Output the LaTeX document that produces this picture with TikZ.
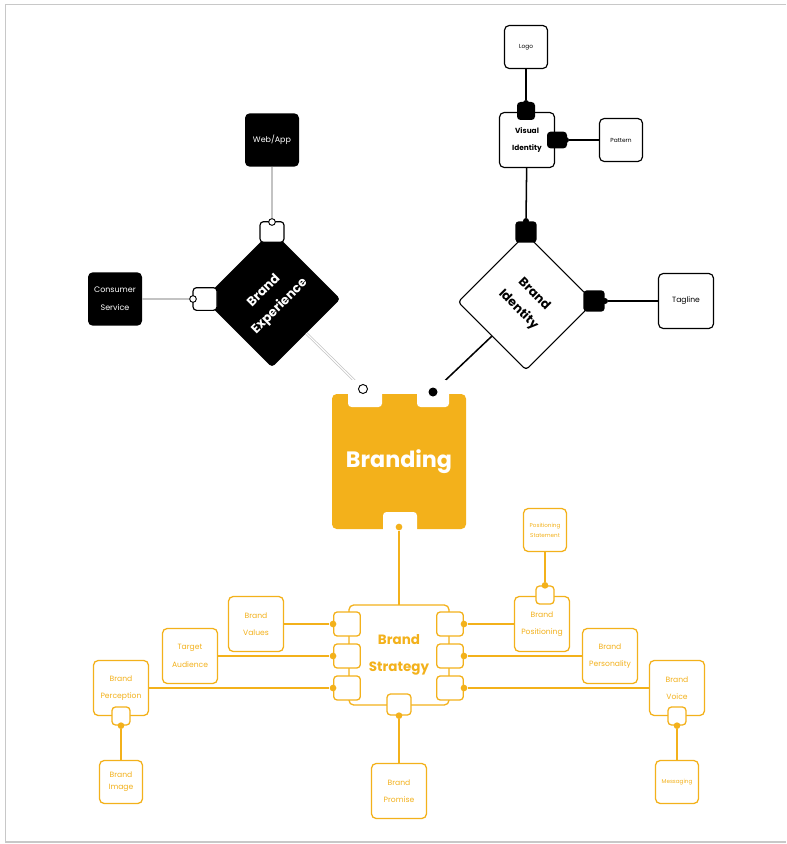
\documentclass[tikz,border=0pt]{standalone}
\usepackage{fontspec}
\setmainfont{Poppins}

\definecolor{brandorange}{RGB}{243,177,27}
\definecolor{linegray}{RGB}{195,195,195}
\definecolor{framegray}{RGB}{200,200,200}

\tikzstyle{wbox} = [draw=black, fill=white, line width=1pt, rounded corners=4pt, minimum width=1.65cm, minimum height=1.65cm, align=center, inner sep=0pt, font=\fontsize{6.5}{15}\selectfont]
\tikzstyle{wsmall} = [wbox, minimum width=1.29cm, minimum height=1.29cm, font=\fontsize{5}{9}\selectfont]
\tikzstyle{bbox} = [fill=black, rounded corners=4pt, minimum width=1.62cm, minimum height=1.6cm, text=white, align=center, inner sep=0pt, font=\fontsize{6.8}{15}\selectfont]
\tikzstyle{obox} = [draw=brandorange, fill=white, line width=1.1pt, rounded corners=4pt, minimum size=1.65cm, text=brandorange, align=center, inner sep=0pt, font=\fontsize{6.5}{15}\selectfont]
\tikzstyle{osmall} = [obox, minimum size=1.29cm, font=\fontsize{6.5}{10.5}\selectfont]
\tikzstyle{oport} = [draw=brandorange, fill=white, line width=1.1pt, rounded corners=3pt, minimum width=0.8cm, minimum height=0.72cm, inner sep=0pt]
\tikzstyle{osock} = [oport, minimum width=0.54cm, minimum height=0.54cm]
\tikzstyle{odot} = [circle, fill=brandorange, inner sep=0pt, minimum size=0.2cm]
\tikzstyle{bport} = [fill=black, rounded corners=3pt, inner sep=0pt, minimum size=0.6cm]
\tikzstyle{bdot} = [circle, fill=black, inner sep=0pt, minimum size=0.18cm]
\tikzstyle{wport} = [draw=black, fill=white, line width=1pt, rounded corners=3pt, inner sep=0pt, minimum width=0.72cm, minimum height=0.62cm]
\tikzstyle{wdot} = [circle, draw=black, fill=white, line width=0.8pt, inner sep=0pt, minimum size=0.2cm]
\tikzstyle{olink} = [draw=brandorange, line width=1.3pt]
\tikzstyle{blink} = [draw=black, line width=1.3pt]
\tikzstyle{glink} = [draw=linegray, line width=1.3pt]

\begin{document}
\begin{tikzpicture}
        \tikzset{x=0.03cm, y=-0.03cm}
        \useasboundingbox (0,0) rectangle (786,844);
        \draw[framegray, line width=1.5pt] (786,4.5) -- (5.5,4.5) -- (5.5,842) -- (786,842);

        % Brand Identity branch
        \node (logo) at (526,47) [wsmall] {Logo};
        \node (visual) at (527,140) [wbox, font=\fontsize{6.3}{15}\selectfont\bfseries] {Visual\\Identity};
        \node (pattern) at (621,140) [wsmall] {Pattern};
        \node (identity) at (526,302) [wbox, rotate=-45, rounded corners=3pt, minimum size=2.88cm, font=\fontsize{10.7}{19}\selectfont\bfseries] {Brand\\Identity};
        \node (tagline) at (686,301) [wbox] {Tagline};
        \node (vport1) at (526,111) [bport, minimum size=0.54cm] {};
        \node (vport2) at (557,140) [bport, minimum width=0.6cm, minimum height=0.5cm] {};
        \node (iport1) at (526,232) [bport, minimum size=0.64cm] {};
        \node (iport2) at (594,301) [bport, minimum size=0.64cm] {};
        \node (vdot1) at (526,103) [bdot] {};
        \node (vdot2) at (566,140) [bdot] {};
        \node (idot1) at (526,221) [bdot] {};
        \node (idot2) at (605,301) [bdot] {};
        \node (idot3) at (433,392) [bdot, minimum size=0.27cm] {};
        \draw[blink] (logo) -- (vdot1);
        \draw[blink] (vdot2) -- (pattern);
        \draw[blink] (visual) -- (idot1);
        \draw[blink] (idot2) -- (tagline);
        \draw[blink] (identity.south) -- (idot3);

        % Brand Experience branch
        \node (webapp) at (272,140) [bbox] {Web/App};
        \node (consumer) at (115,299) [bbox] {Consumer\\Service};
        \node (experience) at (272,299) [fill=black, rotate=45, rounded corners=3pt, minimum size=2.9cm, text=white, align=center, font=\fontsize{11}{19}\selectfont\bfseries] {Brand\\Experience};
        \node (eport1) at (272,232) [wport] {};
        \node (eport2) at (205,299) [wport, minimum height=0.68cm] {};
        \node (ecirc1) at (272,222) [wdot] {};
        \node (ecirc2) at (193,299) [wdot] {};
        \node (ecirc3) at (363,389) [wdot, minimum size=0.27cm] {};
        \draw[glink] (webapp) -- (ecirc1);
        \draw[glink] (consumer) -- (ecirc2);
        \draw[draw=linegray, double=white, double distance=1pt, line width=0.6pt] (experience.south) -- (ecirc3);

        % Main node with notches
        \node (branding) at (399,461.5) [fill=brandorange, rounded corners=4pt, minimum width=4.02cm, minimum height=4.05cm, text=white, font=\fontsize{19}{20}\selectfont\bfseries] {Branding};
        \fill[white, rounded corners=3pt] (348,380) rectangle (382,407);
        \fill[white, rounded corners=3pt] (417,380) rectangle (449,407);
        \fill[white, rounded corners=3pt] (383,512) rectangle (417,540);
        \node (bdot) at (399,527) [odot] {};
        \node (ecirc3b) at (363,389) [wdot, minimum size=0.27cm] {};
        \node (idot3b) at (433,392) [bdot, minimum size=0.27cm] {};

        % Brand Strategy branch
        \node (values) at (256,624) [obox] {Brand\\Values};
        \node (audience) at (190,656) [obox] {Target\\Audience};
        \node (perception) at (121,688) [obox] {Brand\\Perception};
        \node (image) at (121,782) [osmall] {Brand\\Image};
        \node (positioning) at (542,624) [obox] {Brand\\Positioning};
        \node (statement) at (545,530) [osmall, font=\fontsize{4.8}{8.5}\selectfont] {Positioning\\Statement};
        \node (personality) at (610,656) [obox] {Brand\\Personality};
        \node (voice) at (677,688) [obox] {Brand\\Voice};
        \node (messaging) at (677,782) [osmall, font=\fontsize{4.8}{8.5}\selectfont] {Messaging};
        \node (promise) at (399,791) [obox] {Brand\\Promise};

        \draw[olink] (bdot) -- (399,605);
        \node (strategy) at (399,655) [obox, minimum size=3cm, font=\fontsize{11.5}{23}\selectfont\bfseries] {Brand\\Strategy};
        \node (sl1) at (347,624) [oport] {};
        \node (sl2) at (347,656) [oport] {};
        \node (sl3) at (347,688) [oport] {};
        \node (sr1) at (450,624) [oport] {};
        \node (sr2) at (450,656) [oport] {};
        \node (sr3) at (450,688) [oport] {};
        \node (sb) at (399,704.5) [oport, minimum width=0.72cm, minimum height=0.63cm] {};
        \node (pport) at (121,716) [osock] {};
        \node (posport) at (545,595) [osock] {};
        \node (vcport) at (677,716) [osock] {};

        \node (dl1) at (sl1.west) [odot] {};
        \node (dl2) at (sl2.west) [odot] {};
        \node (dl3) at (sl3.west) [odot] {};
        \node (dr1) at (sr1.east) [odot] {};
        \node (dr2) at (sr2.east) [odot] {};
        \node (dr3) at (sr3.east) [odot] {};
        \node (db) at (sb.south) [odot] {};
        \node (dp) at (pport.south) [odot] {};
        \node (dpos) at (posport.north) [odot] {};
        \node (dvc) at (vcport.south) [odot] {};

        \draw[olink] (values) -- (dl1);
        \draw[olink] (audience) -- (dl2);
        \draw[olink] (perception) -- (dl3);
        \draw[olink] (dr1) -- (positioning);
        \draw[olink] (dr2) -- (personality);
        \draw[olink] (dr3) -- (voice);
        \draw[olink] (db) -- (promise);
        \draw[olink] (dp) -- (image);
        \draw[olink] (statement) -- (dpos);
        \draw[olink] (dvc) -- (messaging);
\end{tikzpicture}
\end{document}
